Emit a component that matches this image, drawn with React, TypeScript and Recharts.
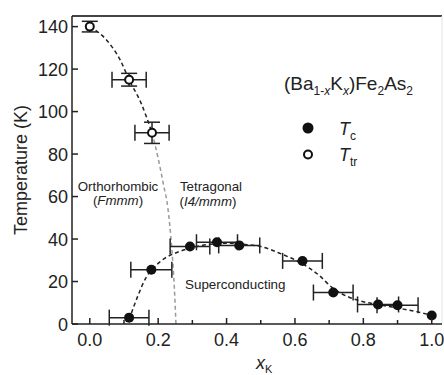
import { ComposedChart, Scatter, Line, XAxis, YAxis, ErrorBar, ReferenceLine } from 'recharts';

// Tc points (filled) with x error
const tcX = [0.115, 0.18, 0.293, 0.372, 0.437, 0.622, 0.712, 0.843, 0.9, 1.0];
const tcT = [3, 25.5, 36.5, 38.5, 37, 29.7, 14.8, 9.2, 8.8, 4];
const tcXErr = [0.058, 0.06, 0.058, 0.06, 0.06, 0.058, 0.058, 0.06, 0.06, 0];

// Ttr points (open) with x and T error
const trX = [0.0, 0.115, 0.182];
const trT = [140, 115, 90];
const trXErr = [0, 0.05, 0.05];
const trTErr = [2.5, 3, 5];

// dashed guide curves
const trCurveX = [0, 0.05, 0.09, 0.115, 0.15, 0.182];
const trCurveT = [140, 133.5, 124, 115, 104, 90];
const trTailX = [0.182, 0.2, 0.215, 0.228, 0.24, 0.247, 0.252];
const trTailT = [90, 78, 66, 55, 35, 18, 0];
const tcCurveX = [0.115, 0.14, 0.165, 0.19, 0.22, 0.26, 0.3, 0.35, 0.4, 0.45, 0.5, 0.56, 0.62, 0.67, 0.71, 0.76, 0.8, 0.85, 0.9, 0.95, 0.99];
const tcCurveT = [2, 13, 22, 27, 31, 34, 36, 37.5, 38, 37.5, 36.5, 33, 28.5, 23, 17, 12.5, 10.5, 9, 7.5, 6, 4.5];

const xMajor = [0, 0.2, 0.4, 0.6, 0.8, 1.0];
const xTicks = [0, 0.1, 0.2, 0.3, 0.4, 0.5, 0.6, 0.7, 0.8, 0.9, 1.0];
const yMajor = [0, 20, 40, 60, 80, 100, 120, 140];
const yTicks = [0, 10, 20, 30, 40, 50, 60, 70, 80, 90, 100, 110, 120, 130, 140];

const tcData = tcX.map((x, i) => ({ x, t: tcT[i], xe: tcXErr[i] }));
const trData = trX.map((x, i) => ({ x, t: trT[i], xe: trXErr[i], te: trTErr[i] }));
const trCurve = trCurveX.map((x, i) => ({ x, t: trCurveT[i] }));
const trTail = trTailX.map((x, i) => ({ x, t: trTailT[i] }));
const tcCurve = tcCurveX.map((x, i) => ({ x, t: tcCurveT[i] }));

const INK = '#222';
const FONT = '"Liberation Sans", Arial, Helvetica, sans-serif';

const isMajor = (v: number, list: number[]) => list.some((m) => Math.abs(m - v) < 1e-6);

function XTick(props: any) {
  const { x, y, payload } = props;
  const major = isMajor(payload.value, xMajor);
  return (
    <g>
      <line x1={x} x2={x} y1={y} y2={y - (major ? 6 : 4)} stroke={INK} strokeWidth={1.5} />
      {major && (
        <text x={x} y={y + 22} textAnchor="middle" fontSize={18} fill={INK} fontFamily={FONT}>
          {payload.value.toFixed(1)}
        </text>
      )}
    </g>
  );
}

function YTick(props: any) {
  const { x, y, payload } = props;
  const major = isMajor(payload.value, yMajor);
  return (
    <g>
      <line x1={x} x2={x + (major ? 6 : 4)} y1={y} y2={y} stroke={INK} strokeWidth={1.5} />
      {major && (
        <text x={x - 4} y={y + 6.5} textAnchor="end" fontSize={18} fill={INK} fontFamily={FONT}>
          {payload.value}
        </text>
      )}
    </g>
  );
}

const FilledDot = (p: any) => <circle cx={p.cx} cy={p.cy} r={5} fill="#111" />;
const OpenDot = (p: any) => <circle cx={p.cx} cy={p.cy} r={4} fill="#fff" stroke="#111" strokeWidth={2} />;

export default function App() {
  return (
    <div style={{ position: 'absolute', left: 0, top: 0, width: 444, height: 375, background: '#fff', fontFamily: FONT }}>
      <ComposedChart width={444} height={375} margin={{ top: 16, right: 2, left: 0, bottom: 0 }}>
        <XAxis
          dataKey="x"
          type="number"
          domain={[-0.052, 1.03]}
          allowDataOverflow
          ticks={xTicks}
          tick={<XTick />}
          tickLine={false}
          tickSize={0}
          tickMargin={0}
          height={51}
          axisLine={{ stroke: INK, strokeWidth: 1.5 }}
        />
        <YAxis
          type="number"
          domain={[0, 145]}
          allowDataOverflow
          ticks={yTicks}
          tick={<YTick />}
          tickLine={false}
          tickSize={0}
          tickMargin={0}
          width={72}
          axisLine={{ stroke: INK, strokeWidth: 1.5 }}
        />
        <ReferenceLine y={145} stroke="#444" strokeWidth={2} />
        <ReferenceLine x={1.03} stroke="#e4e4e4" strokeWidth={1} />
        <Line data={trCurve} dataKey="t" type="monotone" stroke="#222" strokeWidth={1.5} strokeDasharray="4 3" dot={false} activeDot={false} isAnimationActive={false} />
        <Line data={trTail} dataKey="t" type="monotone" stroke="#999" strokeWidth={1.5} strokeDasharray="4 3" dot={false} activeDot={false} isAnimationActive={false} />
        <Line data={tcCurve} dataKey="t" type="monotone" stroke="#222" strokeWidth={1.5} strokeDasharray="4 3" dot={false} activeDot={false} isAnimationActive={false} />
        <Scatter data={tcData} dataKey="t" shape={FilledDot} isAnimationActive={false}>
          <ErrorBar dataKey="xe" direction="x" width={8} stroke={INK} strokeWidth={1.5} />
        </Scatter>
        <Scatter data={trData} dataKey="t" shape={OpenDot} isAnimationActive={false}>
          <ErrorBar dataKey="xe" direction="x" width={8} stroke={INK} strokeWidth={1.5} />
          <ErrorBar dataKey="te" direction="y" width={8} stroke={INK} strokeWidth={1.5} />
        </Scatter>
      </ComposedChart>
      <svg width={444} height={375} style={{ position: 'absolute', left: 0, top: 0, pointerEvents: 'none' }} fontFamily={FONT}>
        <text transform="translate(27,170) rotate(-90)" textAnchor="middle" fontSize={18} fill={INK}>Temperature (K)</text>
        <text x={256} y={369} fontSize={18} fontStyle="italic" fill={INK}>
          x<tspan fontSize={11} dy={4} fontStyle="normal">K</tspan>
        </text>
        <text x={284} y={90} fontSize={19} fill={INK}>
          (Ba<tspan fontSize={12} dy={5}>1-</tspan><tspan fontSize={12} fontStyle="italic">x</tspan>
          <tspan dy={-5}>K</tspan><tspan fontSize={12} dy={5} fontStyle="italic">x</tspan>
          <tspan dy={-5}>)Fe</tspan><tspan fontSize={12} dy={5}>2</tspan>
          <tspan dy={-5}>As</tspan><tspan fontSize={12} dy={5}>2</tspan>
        </text>
        <circle cx={308} cy={128} r={5.5} fill="#111" />
        <text x={339} y={135} fontSize={18} fontStyle="italic" fill={INK}>
          T<tspan fontSize={12} dy={5} fontStyle="normal">c</tspan>
        </text>
        <circle cx={308} cy={154.5} r={4} fill="#fff" stroke="#111" strokeWidth={2} />
        <text x={339} y={161} fontSize={18} fontStyle="italic" fill={INK}>
          T<tspan fontSize={12} dy={5} fontStyle="normal">tr</tspan>
        </text>
        <text x={118} y={191} fontSize={13.3} textAnchor="middle" fill={INK}>Orthorhombic</text>
        <text x={118} y={205} fontSize={13.3} textAnchor="middle" fill={INK}>
          (<tspan fontStyle="italic">Fmmm</tspan>)
        </text>
        <text x={211} y={191} fontSize={13.3} textAnchor="middle" fill={INK}>Tetragonal</text>
        <text x={208} y={206} fontSize={13.3} textAnchor="middle" fill={INK}>
          (<tspan fontStyle="italic">I4/mmm</tspan>)
        </text>
        <text x={185} y={289} fontSize={13.4} fill={INK}>Superconducting</text>
      </svg>
    </div>
  );
}
